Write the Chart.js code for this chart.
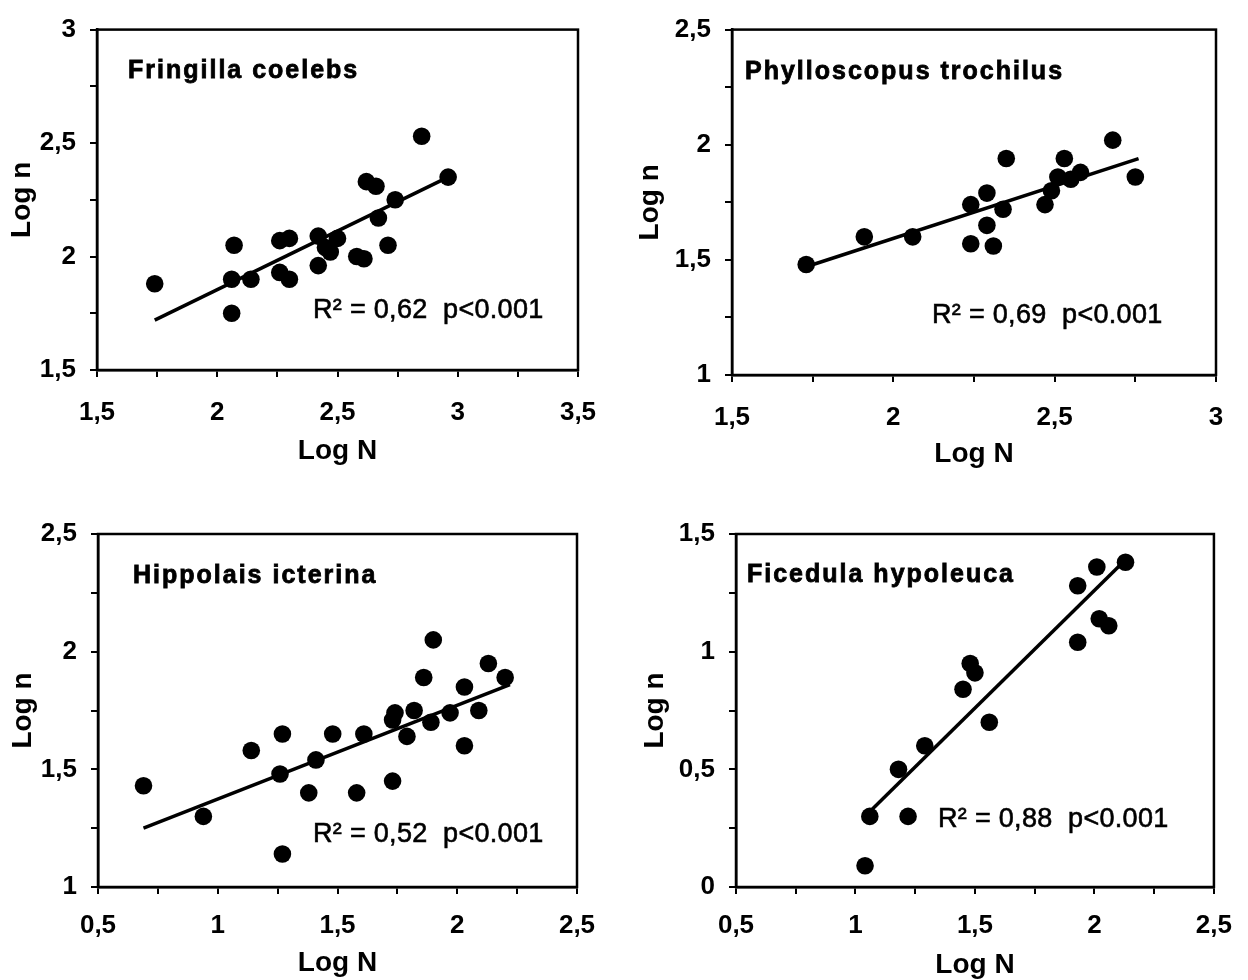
<!DOCTYPE html>
<html>
<head>
<meta charset="utf-8">
<script src="https://cdn.jsdelivr.net/npm/chart.js@4.4.0/dist/chart.umd.min.js"></script>
<style>
  html, body { margin: 0; padding: 0; background: #fff; }
  #wrap { position: relative; width: 1248px; height: 980px; background: #fff; }
  canvas { position: absolute; }
</style>
</head>
<body>
<div id="wrap">
  <canvas id="c1" width="624" height="490" style="left:0;top:0"></canvas>
  <canvas id="c2" width="624" height="490" style="left:624px;top:0"></canvas>
  <canvas id="c3" width="624" height="490" style="left:0;top:490px"></canvas>
  <canvas id="c4" width="624" height="490" style="left:624px;top:490px"></canvas>
</div>
<script>
// ---- Data ----
const xTitle = 'Log N';
const yTitle = 'Log n';

// Fringilla coelebs
const p1Name = 'Fringilla coelebs';
const p1Stat = 'R\u00B2 = 0,62  p<0.001';
const p1X = [1.74, 2.07, 2.06, 2.06, 2.14, 2.26, 2.30, 2.26, 2.30, 2.42, 2.42, 2.45, 2.50, 2.47, 2.58, 2.61, 2.62, 2.66, 2.67, 2.71, 2.74, 2.85, 2.96];
const p1Y = [1.88, 2.05, 1.90, 1.75, 1.90, 2.07, 2.08, 1.93, 1.90, 2.09, 1.96, 2.04, 2.08, 2.02, 2.00, 1.99, 2.33, 2.31, 2.17, 2.05, 2.25, 2.53, 2.35];
const p1LineX = [1.74, 2.96];
const p1LineY = [1.72, 2.35];
const p1XRange = [1.5, 3.5];
const p1YRange = [1.5, 3];

// Phylloscopus trochilus
const p2Name = 'Phylloscopus trochilus';
const p2Stat = 'R\u00B2 = 0,69  p<0.001';
const p2X = [1.73, 1.91, 2.06, 2.24, 2.29, 2.24, 2.29, 2.31, 2.34, 2.35, 2.47, 2.49, 2.51, 2.53, 2.55, 2.58, 2.68, 2.75];
const p2Y = [1.48, 1.60, 1.60, 1.74, 1.79, 1.57, 1.65, 1.56, 1.72, 1.94, 1.74, 1.80, 1.86, 1.94, 1.85, 1.88, 2.02, 1.86];
const p2LineX = [1.73, 2.76];
const p2LineY = [1.47, 1.94];
const p2XRange = [1.5, 3];
const p2YRange = [1, 2.5];

// Hippolais icterina
const p3Name = 'Hippolais icterina';
const p3Stat = 'R\u00B2 = 0,52  p<0.001';
const p3X = [0.69, 0.94, 1.14, 1.27, 1.26, 1.27, 1.38, 1.41, 1.48, 1.58, 1.61, 1.73, 1.73, 1.74, 1.79, 1.82, 1.86, 1.90, 1.89, 1.97, 2.03, 2.03, 2.09, 2.13, 2.20];
const p3Y = [1.43, 1.30, 1.58, 1.65, 1.48, 1.14, 1.40, 1.54, 1.65, 1.40, 1.65, 1.45, 1.71, 1.74, 1.64, 1.75, 1.89, 2.05, 1.70, 1.74, 1.85, 1.60, 1.75, 1.95, 1.89];
const p3LineX = [0.69, 2.22];
const p3LineY = [1.25, 1.86];
const p3XRange = [0.5, 2.5];
const p3YRange = [1, 2.5];

// Ficedula hypoleuca
const p4Name = 'Ficedula hypoleuca';
const p4Stat = 'R\u00B2 = 0,88  p<0.001';
const p4X = [1.04, 1.06, 1.22, 1.18, 1.29, 1.45, 1.48, 1.50, 1.56, 1.93, 1.93, 2.01, 2.02, 2.06, 2.13];
const p4Y = [0.09, 0.30, 0.30, 0.50, 0.60, 0.84, 0.95, 0.91, 0.70, 1.04, 1.28, 1.36, 1.14, 1.11, 1.38];
const p4LineX = [1.07, 2.11];
const p4LineY = [0.33, 1.37];
const p4XRange = [0.5, 2.5];
const p4YRange = [0, 1.5];

const tickStep = 0.25;

// ---- Rendering ----
const FAMILY = '"Liberation Sans", Arial, sans-serif';

function fmt(v) {
  const r = Math.round(v * 2) / 2;
  return Math.abs(r - v) < 1e-6 ? String(r).replace('.', ',') : '';
}

function pts(xs, ys) { return xs.map((x, i) => ({ x: x, y: ys[i] })); }

const framePlugin = {
  id: 'frameAndText',
  afterDraw(chart) {
    const o = chart.options.plugins.frameAndText;
    const a = chart.chartArea;
    const ctx = chart.ctx;
    ctx.save();
    ctx.strokeStyle = '#000';
    ctx.lineWidth = 2.5;
    ctx.strokeRect(a.left, a.top, a.right - a.left, a.bottom - a.top);
    ctx.fillStyle = '#000';
    ctx.textAlign = 'left';
    ctx.textBaseline = 'alphabetic';
    ctx.font = 'bold 25px ' + FAMILY;
    ctx.letterSpacing = '2px';
    ctx.lineWidth = 0.8;
    ctx.fillText(o.name, a.left + o.nameDx, a.top + o.nameDy);
    ctx.strokeText(o.name, a.left + o.nameDx, a.top + o.nameDy);
    ctx.font = '27px ' + FAMILY;
    ctx.letterSpacing = '0.3px';
    ctx.lineWidth = 0.6;
    ctx.fillText(o.stat, a.left + o.statDx, a.top + o.statDy);
    ctx.strokeText(o.stat, a.left + o.statDx, a.top + o.statDy);
    ctx.restore();
  }
};

function panel(id, d) {
  new Chart(document.getElementById(id), {
    type: 'scatter',
    data: {
      datasets: [
        {
          data: pts(d.lx, d.ly),
          showLine: true,
          borderColor: '#000',
          borderWidth: 3.5,
          pointRadius: 0,
          order: 2
        },
        {
          data: pts(d.x, d.y),
          backgroundColor: '#000',
          borderColor: '#000',
          pointRadius: 8.8,
          borderWidth: 0,
          order: 1
        }
      ]
    },
    options: {
      responsive: false,
      animation: false,
      devicePixelRatio: 1,
      layout: { padding: { top: d.padTop, right: d.padRight, left: 0, bottom: 0 } },
      plugins: {
        legend: { display: false },
        tooltip: { enabled: false },
        frameAndText: d.text
      },
      scales: {
        x: {
          type: 'linear',
          min: d.xr[0], max: d.xr[1],
          ticks: { stepSize: tickStep, autoSkip: false, callback: fmt, color: '#000',
                   font: { family: FAMILY, size: 26, weight: 'bold' }, padding: d.xTickPad, maxRotation: 0 },
          grid: { display: true, drawOnChartArea: false, drawTicks: true, tickLength: 7, color: '#000', lineWidth: 2 },
          border: { display: true, color: '#000', width: 2.5 },
          title: { display: true, text: xTitle, color: '#000',
                   font: { family: FAMILY, size: 28, weight: 'bold', lineHeight: 1 },
                   padding: { top: 0, bottom: d.xTitlePad } },
          afterFit: s => { s.height = d.xH; }
        },
        y: {
          type: 'linear',
          min: d.yr[0], max: d.yr[1],
          ticks: { stepSize: tickStep, autoSkip: false, callback: fmt, color: '#000',
                   font: { family: FAMILY, size: 26, weight: 'bold' }, padding: 14 },
          grid: { display: true, drawOnChartArea: false, drawTicks: true, tickLength: 7, color: '#000', lineWidth: 2 },
          border: { display: true, color: '#000', width: 2.5 },
          title: { display: true, text: yTitle, color: '#000',
                   font: { family: FAMILY, size: 28, weight: 'bold', lineHeight: 1 },
                   padding: { top: d.yTitlePad, bottom: 0 } },
          afterFit: s => { s.width = d.yW; }
        }
      }
    },
    plugins: [framePlugin]
  });
}

panel('c1', { x: p1X, y: p1Y, lx: p1LineX, ly: p1LineY, xr: p1XRange, yr: p1YRange,
  padTop: 22, padRight: 46, yW: 97, xH: 120, xTickPad: 20, xTitlePad: 25, yTitlePad: 8,
  text: { name: p1Name, stat: p1Stat, nameDx: 31, nameDy: 48, statDx: 216, statDy: 288 } });

panel('c2', { x: p2X, y: p2Y, lx: p2LineX, ly: p2LineY, xr: p2XRange, yr: p2YRange,
  padTop: 22, padRight: 32, yW: 108, xH: 115, xTickPad: 20, xTitlePad: 22, yTitlePad: 12,
  text: { name: p2Name, stat: p2Stat, nameDx: 13, nameDy: 49, statDx: 200, statDy: 293 } });

panel('c3', { x: p3X, y: p3Y, lx: p3LineX, ly: p3LineY, xr: p3XRange, yr: p3YRange,
  padTop: 44, padRight: 47, yW: 98, xH: 93, xTickPad: 16, xTitlePad: 3, yTitlePad: 9,
  text: { name: p3Name, stat: p3Stat, nameDx: 35, nameDy: 49, statDx: 215, statDy: 308 } });

panel('c4', { x: p4X, y: p4Y, lx: p4LineX, ly: p4LineY, xr: p4XRange, yr: p4YRange,
  padTop: 44, padRight: 32, yW: 112, xH: 93, xTickPad: 16, xTitlePad: 1, yTitlePad: 17,
  text: { name: p4Name, stat: p4Stat, nameDx: 11, nameDy: 48, statDx: 202, statDy: 293 } });
</script>
</body>
</html>
